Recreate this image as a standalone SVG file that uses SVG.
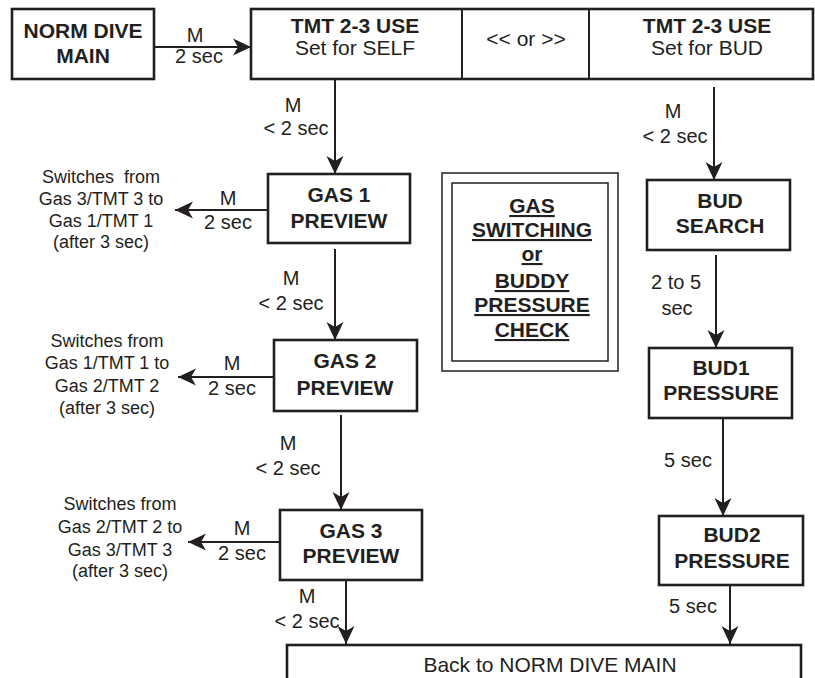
<svg xmlns="http://www.w3.org/2000/svg" width="815" height="678" viewBox="0 0 815 678">
<style>
  .box { fill: #fff; stroke: #231f20; stroke-width: 2.6; }
  .thin { fill: none; stroke: #231f20; stroke-width: 1.5; }
  .b { font-family: "Liberation Sans", Arial, sans-serif; font-weight: bold; font-size: 21px; fill: #231f20; text-anchor: middle; }
  .r { font-family: "Liberation Sans", Arial, sans-serif; font-size: 21px; fill: #231f20; text-anchor: middle; }
  .lbl { font-family: "Liberation Sans", Arial, sans-serif; font-size: 20px; fill: #231f20; text-anchor: middle; }
  .note { font-family: "Liberation Sans", Arial, sans-serif; font-size: 18px; fill: #231f20; text-anchor: middle; white-space: pre; }
  .u { text-decoration: underline; }
  .conn { stroke: #231f20; stroke-width: 2; fill: none; marker-end: url(#arr); }
</style>
<defs>
  <marker id="arr" markerUnits="userSpaceOnUse" markerWidth="20" markerHeight="19" refX="18" refY="8.5" orient="auto" overflow="visible">
    <path d="M18,8.5 L0,0 L5,8.5 L0,17 Z" fill="#231f20"/>
  </marker>
</defs>
<rect width="815" height="678" fill="#fff"/>

<g id="connectors">
  <line class="conn" x1="154" y1="47" x2="251" y2="47"/>
  <line class="conn" x1="335" y1="79" x2="335" y2="174"/>
  <line class="conn" x1="268" y1="210" x2="175" y2="210"/>
  <line class="conn" x1="335" y1="249" x2="335" y2="340"/>
  <line class="conn" x1="274" y1="377" x2="178" y2="377"/>
  <line class="conn" x1="341" y1="415" x2="341" y2="510"/>
  <line class="conn" x1="280" y1="542" x2="188" y2="542"/>
  <line class="conn" x1="346" y1="580" x2="346" y2="644"/>
  <line class="conn" x1="714" y1="87" x2="714" y2="180"/>
  <line class="conn" x1="716" y1="255" x2="716" y2="348"/>
  <line class="conn" x1="723" y1="418" x2="723" y2="516"/>
  <line class="conn" x1="730" y1="585" x2="730" y2="644"/>
</g>

<g id="connector-labels">
  <text class="lbl" x="195" y="42">M</text>
  <text class="lbl" x="199" y="63">2 sec</text>
  <text class="lbl" x="293" y="112">M</text>
  <text class="lbl" x="296" y="135">&lt; 2 sec</text>
  <text class="lbl" x="228" y="205">M</text>
  <text class="lbl" x="228" y="229">2 sec</text>
  <text class="lbl" x="291" y="285">M</text>
  <text class="lbl" x="291" y="310">&lt; 2 sec</text>
  <text class="lbl" x="232" y="370">M</text>
  <text class="lbl" x="232" y="395">2 sec</text>
  <text class="lbl" x="288" y="450">M</text>
  <text class="lbl" x="288" y="475">&lt; 2 sec</text>
  <text class="lbl" x="242" y="535">M</text>
  <text class="lbl" x="242" y="560">2 sec</text>
  <text class="lbl" x="307" y="603">M</text>
  <text class="lbl" x="307" y="628">&lt; 2 sec</text>
  <text class="lbl" x="673" y="118">M</text>
  <text class="lbl" x="675" y="143">&lt; 2 sec</text>
  <text class="lbl" x="676" y="289">2 to 5</text>
  <text class="lbl" x="677" y="315">sec</text>
  <text class="lbl" x="688" y="467">5 sec</text>
  <text class="lbl" x="693" y="613">5 sec</text>
</g>

<g id="note1">
  <text class="note" x="101" y="183">Switches  from</text>
  <text class="note" x="101" y="205">Gas 3/TMT 3 to</text>
  <text class="note" x="101" y="227">Gas 1/TMT 1</text>
  <text class="note" x="101" y="248">(after 3 sec)</text>
</g>
<g id="note2">
  <text class="note" x="107" y="347">Switches from</text>
  <text class="note" x="107" y="369">Gas 1/TMT 1 to</text>
  <text class="note" x="107" y="392">Gas 2/TMT 2</text>
  <text class="note" x="107" y="414">(after 3 sec)</text>
</g>
<g id="note3">
  <text class="note" x="120" y="510">Switches from</text>
  <text class="note" x="120" y="533">Gas 2/TMT 2 to</text>
  <text class="note" x="120" y="556">Gas 3/TMT 3</text>
  <text class="note" x="120" y="577">(after 3 sec)</text>
</g>

<g id="norm-dive-main">
  <rect class="box" x="12" y="9" width="142" height="70"/>
  <text class="b" x="83" y="38">NORM DIVE</text>
  <text class="b" x="83" y="63">MAIN</text>
</g>

<g id="tmt-use">
  <rect class="box" x="251" y="9" width="562" height="70"/>
  <line x1="462" y1="9" x2="462" y2="79" stroke="#231f20" stroke-width="2"/>
  <line x1="589" y1="9" x2="589" y2="79" stroke="#231f20" stroke-width="2"/>
  <text class="b" x="355" y="33">TMT 2-3 USE</text>
  <text class="r" x="355" y="55">Set for SELF</text>
  <text class="r" x="526" y="46">&lt;&lt; or &gt;&gt;</text>
  <text class="b" x="707" y="33">TMT 2-3 USE</text>
  <text class="r" x="707" y="55">Set for BUD</text>
</g>

<g id="gas1">
  <rect class="box" x="268" y="174" width="142" height="69"/>
  <text class="b" x="339" y="202">GAS 1</text>
  <text class="b" x="339" y="228">PREVIEW</text>
</g>
<g id="gas2">
  <rect class="box" x="274" y="340" width="143" height="71"/>
  <text class="b" x="345" y="368">GAS 2</text>
  <text class="b" x="345" y="395">PREVIEW</text>
</g>
<g id="gas3">
  <rect class="box" x="280" y="510" width="142" height="70"/>
  <text class="b" x="351" y="538">GAS 3</text>
  <text class="b" x="351" y="563">PREVIEW</text>
</g>

<g id="title-box">
  <rect class="thin" x="442" y="173" width="176" height="198"/>
  <rect class="thin" x="452" y="183" width="156" height="178" stroke-width="1.8"/>
  <text class="b u" x="532" y="213">GAS</text>
  <text class="b u" x="532" y="237">SWITCHING</text>
  <text class="b u" x="532" y="261">or</text>
  <text class="b u" x="532" y="288">BUDDY</text>
  <text class="b u" x="532" y="312">PRESSURE</text>
  <text class="b u" x="532" y="337">CHECK</text>
</g>

<g id="bud-search">
  <rect class="box" x="647" y="180" width="143" height="70"/>
  <text class="b" x="720" y="208">BUD</text>
  <text class="b" x="720" y="233">SEARCH</text>
</g>
<g id="bud1">
  <rect class="box" x="649" y="348" width="143" height="70"/>
  <text class="b" x="721" y="375">BUD1</text>
  <text class="b" x="721" y="400">PRESSURE</text>
</g>
<g id="bud2">
  <rect class="box" x="659" y="516" width="144" height="69"/>
  <text class="b" x="732" y="542">BUD2</text>
  <text class="b" x="732" y="568">PRESSURE</text>
</g>

<g id="back">
  <rect class="box" x="287" y="645" width="514" height="44"/>
  <text class="r" x="550" y="672" font-size="20">Back to NORM DIVE MAIN</text>
</g>
</svg>
